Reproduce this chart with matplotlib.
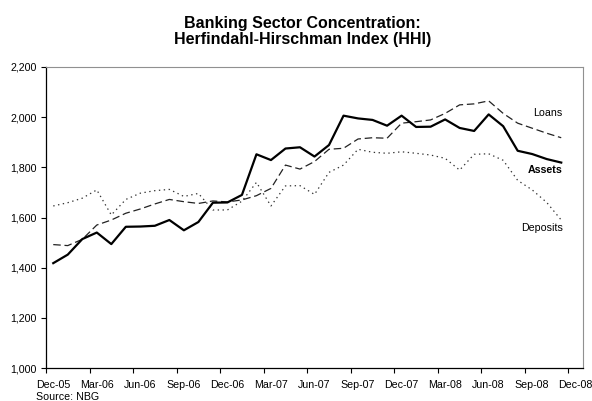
import matplotlib
matplotlib.use("Agg")
import matplotlib.pyplot as plt
import numpy as np

plt.rcParams['font.family'] = ['Liberation Sans', 'DejaVu Sans']

# Monthly data, Dec-05 .. Nov-08
months = ["Dec-05", "Jan-06", "Feb-06", "Mar-06", "Apr-06", "May-06", "Jun-06", "Jul-06",
          "Aug-06", "Sep-06", "Oct-06", "Nov-06", "Dec-06", "Jan-07", "Feb-07", "Mar-07",
          "Apr-07", "May-07", "Jun-07", "Jul-07", "Aug-07", "Sep-07", "Oct-07", "Nov-07",
          "Dec-07", "Jan-08", "Feb-08", "Mar-08", "Apr-08", "May-08", "Jun-08", "Jul-08",
          "Aug-08", "Sep-08", "Oct-08", "Nov-08"]

assets = [1418, 1452, 1514, 1540, 1494, 1563, 1564, 1567, 1590, 1549, 1582, 1659,
          1660, 1690, 1852, 1829, 1875, 1880, 1843, 1889, 2006, 1995, 1989, 1966,
          2006, 1961, 1962, 1991, 1957, 1945, 2011, 1964, 1866, 1853, 1833, 1819]

loans = [1492, 1488, 1513, 1570, 1590, 1617, 1634, 1654, 1672, 1663, 1656, 1666,
         1662, 1670, 1687, 1716, 1809, 1793, 1823, 1872, 1876, 1913, 1918, 1916,
         1976, 1982, 1989, 2015, 2049, 2053, 2065, 2015, 1976, 1956, 1936, 1918]

deposits = [1646, 1659, 1677, 1710, 1610, 1672, 1697, 1707, 1712, 1684, 1696, 1630,
            1630, 1665, 1740, 1646, 1726, 1727, 1692, 1780, 1809, 1872, 1860, 1856,
            1862, 1856, 1849, 1836, 1789, 1852, 1854, 1828, 1748, 1710, 1660, 1590]

tick_labels = ["Dec-05", "Mar-06", "Jun-06", "Sep-06", "Dec-06", "Mar-07", "Jun-07",
               "Sep-07", "Dec-07", "Mar-08", "Jun-08", "Sep-08", "Dec-08"]
yticks = [1000, 1200, 1400, 1600, 1800, 2000, 2200]

fig = plt.figure(figsize=(5.92, 4.01), dpi=100)
ax = fig.add_axes([46/592, 1-368/401, (583-46)/592, (368-67)/401])

x = np.arange(len(months))
ax.plot(x, deposits, color='#333333', lw=0.9, dashes=(1.1, 2.8))
ax.plot(x, loans, color='#222222', lw=0.9, dashes=(6, 3))
ax.plot(x, assets, color='black', lw=1.6)

ax.set_ylim(1000, 2200)
ax.set_xlim(-0.5, 36.5)
ax.set_yticks(yticks)
ax.set_yticklabels([f"{v:,}" for v in yticks], fontsize=7.7)

ax.set_xticks(np.arange(-0.5, 36.6, 3))
ax.set_xticklabels([])
ax.set_xticks(np.arange(0, 37, 3), minor=True)
ax.set_xticklabels(tick_labels, minor=True, fontsize=7.7)
ax.tick_params(axis='x', which='major', length=3.5, width=0.8, direction='out')
ax.tick_params(axis='x', which='minor', length=0, pad=8.5)
ax.tick_params(axis='y', length=3.5, width=0.8, pad=3)
lbls = ax.get_xticklabels(minor=True)
lbls[-1].set_x(35.9)

for s in ['left', 'bottom']:
    ax.spines[s].set_color('black')
    ax.spines[s].set_linewidth(0.9)
for s in ['top', 'right']:
    ax.spines[s].set_color('#909090')
    ax.spines[s].set_linewidth(0.8)

fig.text(0.511, 1-31.5/401, "Banking Sector Concentration:\nHerfindahl-Hirschman Index (HHI)",
         ha='center', va='center', fontsize=11.5, fontweight='bold', linespacing=1.12)

ax.text(35.1, 2016, "Loans", ha='right', va='center', fontsize=7.7)
ax.text(35.1, 1790, "Assets", ha='right', va='center', fontsize=7.7, fontweight='bold')
ax.text(35.1, 1558, "Deposits", ha='right', va='center', fontsize=7.7)

fig.text(36/592, 1-392/401, "Source: NBG", ha='left', va='top', fontsize=7.7)

fig.savefig("out.png", dpi=100)
